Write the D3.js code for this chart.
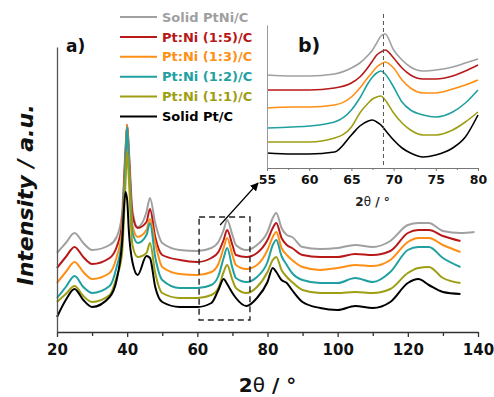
<!DOCTYPE html>
<html>
<head>
<meta charset="utf-8">
<script src="https://cdn.jsdelivr.net/npm/d3@7"></script>
<style>
  body { margin: 0; background: #fff; }
  text { font-family: 'DejaVu Sans', sans-serif; font-weight: bold; }
</style>
</head>
<body>
<svg id="chart"></svg>
<script>
// legend / series
const seriesNames = ['Solid PtNi/C', 'Pt:Ni (1:5)/C', 'Pt:Ni (1:3)/C', 'Pt:Ni (1:2)/C', 'Pt:Ni (1:1)/C', 'Solid Pt/C'];
const seriesColors = ['#a0a0a0', '#b81818', '#ff8f14', '#20a0a0', '#9e9e12', '#000000'];

// main pattern, 2theta in degrees, intensity in a.u. (stacked offsets included)
const mainTheta = [20, 22.5, 25, 27.5, 30, 35, 37, 38.5, 39.5, 40, 40.5, 41.5, 43, 45.5, 46.5, 48, 50, 55, 60, 64,
  66, 67.5, 68.5, 70, 71, 74, 77, 80, 81.5, 82.5, 84, 85.5, 87, 90, 95, 100, 105, 110, 115, 120,
  123, 126, 130, 135, 139];
const mainPtNi = [79, 89, 99, 89, 82, 87, 95, 117, 182, 207, 182, 122, 105, 120, 134, 109, 89, 82, 81, 84,
  90, 102, 112, 97, 87, 82, 87, 100, 114, 119, 104, 97, 95, 85, 83, 84, 87, 85, 91, 107,
  109, 109, 101, 99, 100];
const mainPtNi15 = [64, 75, 85, 75, 68, 74, 85, 107, 177, 207, 177, 117, 104, 110, 123, 95, 77, 72, 70, 74,
  80, 92, 102, 87, 77, 75, 79, 92, 104, 109, 94, 87, 84, 77, 75, 75, 78, 77, 81, 99,
  102, 102, 96, 91, null];
const mainPtNi13 = [49, 60, 70, 60, 53, 59, 75, 100, 172, 207, 172, 107, 95, 102, 113, 89, 65, 58, 57, 60,
  68, 84, 94, 77, 67, 63, 67, 82, 95, 100, 84, 77, 72, 65, 62, 64, 67, 66, 72, 90,
  94, 94, 87, 80, null];
const mainPtNi12 = [34, 45, 56, 45, 39, 46, 65, 92, 167, 205, 167, 100, 89, 97, 109, 75, 52, 44, 44, 47,
  56, 74, 84, 64, 54, 50, 55, 70, 87, 92, 76, 67, 59, 52, 49, 49, 54, 50, 60, 82,
  85, 85, 74, 65, null];
const mainPtNi11 = [30, 38, 46, 36, 30, 37, 55, 77, 147, 180, 152, 87, 75, 79, 89, 59, 39, 34, 34, 37,
  44, 60, 67, 52, 44, 39, 45, 60, 72, 75, 62, 55, 50, 42, 39, 39, 40, 39, 43, 59,
  64, 65, 54, 49, null];
const mainPt = [15, 32, 43, 32, 25, 35, 52, 87, 140, 132, 100, 70, 57, 76, 74, 45, 30, 25, 25, 29,
  42, 53, 48, 39, 34, 26, 34, 50, 64, 60, 52, 49, 42, 30, 24, 22, 26, 24, 30, 49,
  53, 47, 40, 38, null];

// inset b), 55-80 degrees
const insetTheta = [55, 58, 60, 63, 65, 66, 67, 67.5, 68, 68.5, 69, 70, 71, 72, 73.5, 75, 77, 78.5, 80];
const insetPtNi = [93, 92, 92, 94, 100, 105, 113, 118, 125, 132, 134, 118, 108, 101, 97, 98, 101, 105, 109];
const insetPtNi15 = [78, 78, 78, 80, 85, 91, 101, 107, 113, 116, 118, 110, 100, 93, 89, 89, 92, 97, 103];
const insetPtNi13 = [60, 61, 61, 63, 71, 80, 91, 96, 101, 104, 106, 100, 88, 80, 75, 75, 79, 83, 88];
const insetPtNi12 = [40, 41, 42, 46, 58, 70, 85, 91, 95, 97, 94, 81, 66, 58, 53, 51, 56, 65, 78];
const insetPtNi11 = [26, 26, 26, 30, 41, 55, 65, 69, 71, 72, 68, 55, 45, 38, 33, 33, 38, 46, 56];
const insetPt = [15, 14, 14, 16, 33, 42, 47, 48, 46, 43, 38, 28, 20, 15, 11, 13, 20, 31, 53];

const mainTicks = [20, 40, 60, 80, 100, 120, 140];
const mainMinorTicks = [30, 50, 70, 90, 110, 130];
const insetTicks = [55, 60, 65, 70, 75, 80];
const insetMinorTicks = [57.5, 62.5, 67.5, 72.5, 77.5];
const insetMarker = 68.8;
const zoomBox = { x0: 60.5, x1: 75, y0: 12, y1: 115 };

const mainSeries = [mainPtNi, mainPtNi15, mainPtNi13, mainPtNi12, mainPtNi11, mainPt];
const insetSeries = [insetPtNi, insetPtNi15, insetPtNi13, insetPtNi12, insetPtNi11, insetPt];

const width = 494;
const height = 397;

const svg = d3.select('#chart')
  .attr('width', width)
  .attr('height', height)
  .attr('viewBox', [0, 0, width, height]);

// ---- main plot ----
const x = d3.scaleLinear().domain([20, 140]).range([57, 478]);
const y = d3.scaleLinear().domain([0, 285]).range([332, 47]);

const mainLine = (vals) => d3.line()
  .defined((d, i) => vals[i] != null)
  .x((d, i) => x(mainTheta[i]))
  .y((d, i) => y(vals[i]))
  .curve(d3.curveMonotoneX)(vals);

svg.append('g')
  .attr('fill', 'none')
  .attr('stroke-width', 2)
  .attr('stroke-linejoin', 'round')
  .selectAll('path')
  .data(mainSeries)
  .join('path')
  .attr('stroke', (d, i) => seriesColors[i])
  .attr('d', (d) => mainLine(d));

// dashed zoom box + arrow
svg.append('rect')
  .attr('x', x(zoomBox.x0))
  .attr('y', y(zoomBox.y1))
  .attr('width', x(zoomBox.x1) - x(zoomBox.x0))
  .attr('height', y(zoomBox.y0) - y(zoomBox.y1))
  .attr('fill', 'none')
  .attr('stroke', '#222')
  .attr('stroke-width', 1.4)
  .attr('stroke-dasharray', '6,4');

svg.append('defs').append('marker')
  .attr('id', 'arrow')
  .attr('viewBox', '0 0 10 10')
  .attr('refX', 9).attr('refY', 5)
  .attr('markerWidth', 7).attr('markerHeight', 7)
  .attr('orient', 'auto')
  .append('path')
  .attr('d', 'M0,0L10,5L0,10z')
  .attr('fill', '#000');

svg.append('line')
  .attr('x1', x(66.5)).attr('y1', y(107))
  .attr('x2', x(77.3)).attr('y2', y(149))
  .attr('stroke', '#000')
  .attr('stroke-width', 1.2)
  .attr('marker-end', 'url(#arrow)');

// axes
const gx = svg.append('g')
  .attr('transform', `translate(0,${y(0)})`)
  .call(d3.axisBottom(x).tickValues(mainTicks).tickSize(5).tickSizeOuter(0).tickPadding(7).tickFormat(d3.format('d')));
gx.append('g')
  .call(d3.axisBottom(x).tickValues(mainMinorTicks).tickSize(4).tickFormat(''))
  .call((g) => g.select('.domain').remove());
gx.selectAll('.domain, line').attr('stroke', '#333').attr('stroke-width', 1.3);
gx.selectAll('text').attr('font-size', 15).attr('font-family', 'DejaVu Sans').attr('font-weight', 'bold').attr('fill', '#111');

svg.append('g')
  .attr('transform', `translate(${x(20)},0)`)
  .call(d3.axisLeft(y).tickValues([]).tickSizeOuter(0))
  .selectAll('.domain').attr('stroke', '#555').attr('stroke-width', 1.3);

svg.append('text')
  .attr('x', (x(20) + x(140)) / 2)
  .attr('y', 392)
  .attr('text-anchor', 'middle')
  .attr('font-size', 20)
  .attr('fill', '#111')
  .call((t) => {
    t.append('tspan').text('2');
    t.append('tspan').attr('font-weight', 'normal').text('θ');
    t.append('tspan').text(' / °');
  });

svg.append('text')
  .attr('transform', 'translate(33,195) rotate(-90)')
  .attr('text-anchor', 'middle')
  .attr('font-size', 22)
  .attr('font-style', 'italic')
  .attr('fill', '#111')
  .text('Intensity / a.u.');

svg.append('text')
  .attr('x', 66).attr('y', 52)
  .attr('font-size', 17)
  .attr('fill', '#111')
  .text('a)');

// legend
const legend = svg.append('g')
  .selectAll('g')
  .data(seriesNames)
  .join('g')
  .attr('transform', (d, i) => `translate(120,${17 + i * 19.9})`);
legend.append('line')
  .attr('x1', 0).attr('x2', 37)
  .attr('stroke', (d, i) => seriesColors[i])
  .attr('stroke-width', 2);
legend.append('text')
  .attr('x', 42).attr('dy', '0.36em')
  .attr('font-size', 13)
  .attr('fill', (d, i) => seriesColors[i])
  .text((d) => d);

// ---- inset ----
const xi = d3.scaleLinear().domain([55, 80]).range([267, 478]);
const yi = d3.scaleLinear().domain([0, 143]).range([168, 25]);

const insetLine = (vals) => d3.line()
  .x((d, i) => xi(insetTheta[i]))
  .y((d, i) => yi(vals[i]))
  .curve(d3.curveMonotoneX)(vals);

svg.append('g')
  .attr('fill', 'none')
  .attr('stroke-width', 1.6)
  .selectAll('path')
  .data(insetSeries)
  .join('path')
  .attr('stroke', (d, i) => seriesColors[i])
  .attr('d', (d) => insetLine(d));

svg.append('line')
  .attr('x1', xi(insetMarker)).attr('x2', xi(insetMarker))
  .attr('y1', 14).attr('y2', yi(0))
  .attr('stroke', '#555')
  .attr('stroke-width', 1)
  .attr('stroke-dasharray', '4,3');

const gxi = svg.append('g')
  .attr('transform', `translate(0,${yi(0)})`)
  .call(d3.axisBottom(xi).tickValues(insetTicks).tickSize(3).tickSizeOuter(0).tickPadding(4).tickFormat(d3.format('d')));
gxi.append('g')
  .call(d3.axisBottom(xi).tickValues(insetMinorTicks).tickSize(2).tickFormat(''))
  .call((g) => g.select('.domain').remove());
gxi.selectAll('.domain, line').attr('stroke', '#777');
gxi.selectAll('text').attr('font-size', 12.5).attr('font-family', 'DejaVu Sans').attr('font-weight', 'bold').attr('fill', '#111');

svg.append('g')
  .attr('transform', `translate(${xi(55)},0)`)
  .call(d3.axisLeft(yi).tickValues([]).tickSizeOuter(0))
  .selectAll('.domain').attr('stroke', '#999');

svg.append('text')
  .attr('x', (xi(55) + xi(80)) / 2)
  .attr('y', 206)
  .attr('text-anchor', 'middle')
  .attr('font-size', 12)
  .attr('fill', '#222')
  .call((t) => {
    t.append('tspan').text('2');
    t.append('tspan').attr('font-weight', 'normal').text('θ');
    t.append('tspan').text(' / °');
  });

svg.append('text')
  .attr('x', 298).attr('y', 52)
  .attr('font-size', 19)
  .attr('fill', '#111')
  .text('b)');
</script>
</body>
</html>
